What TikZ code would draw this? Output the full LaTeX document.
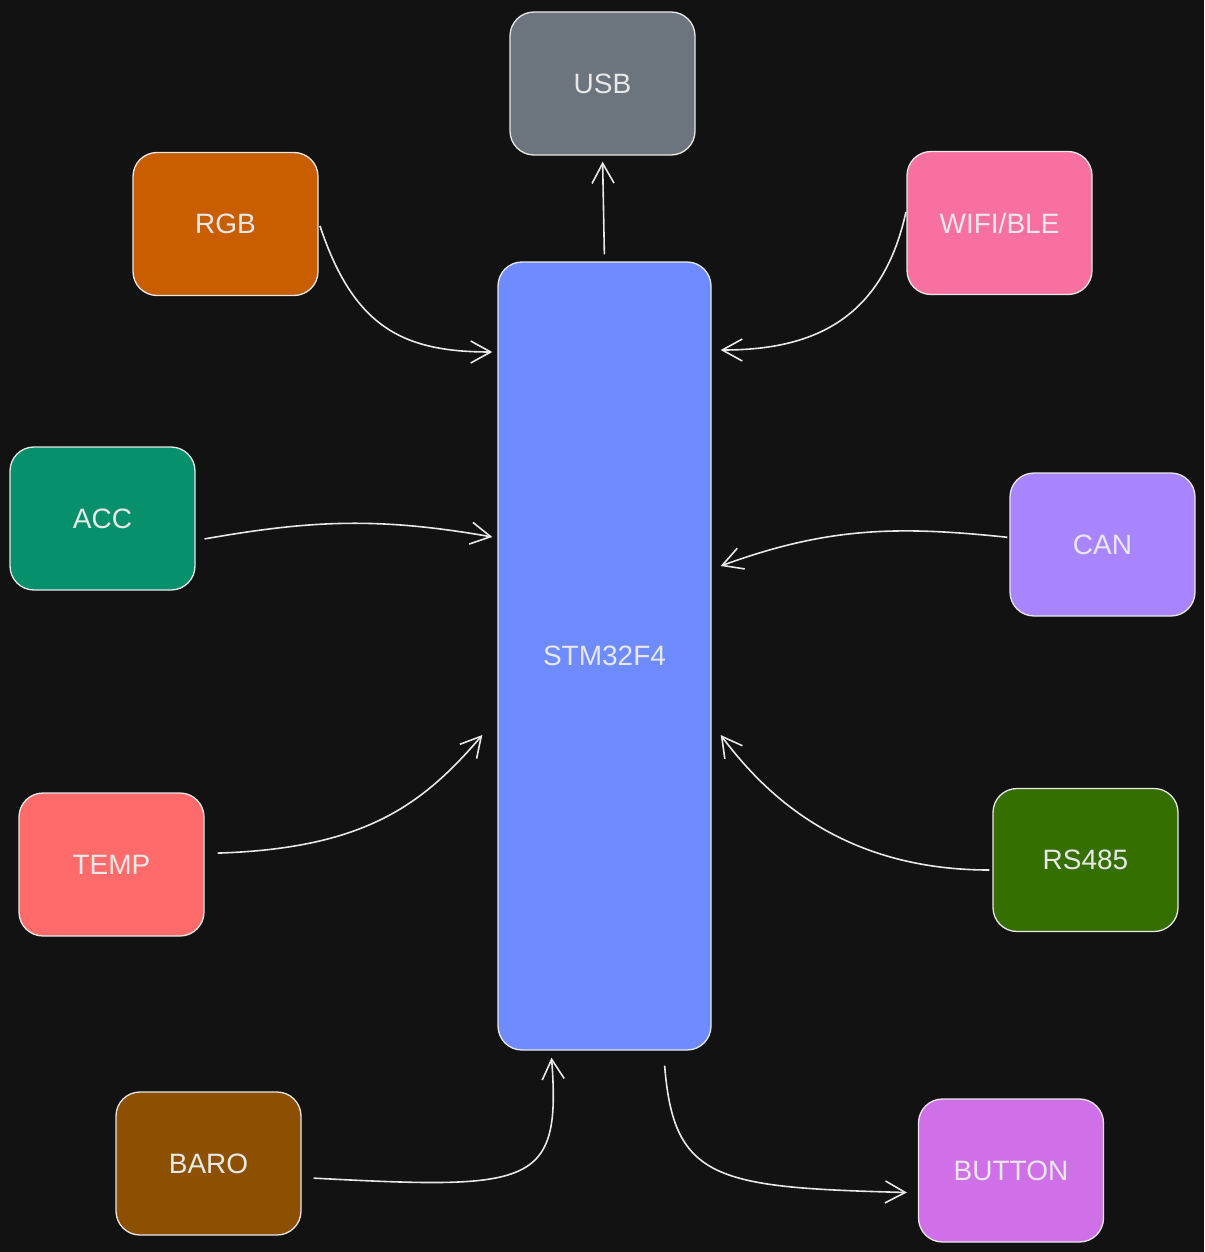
\documentclass[tikz,border=0pt]{standalone}
\usepackage{fontspec}
\setmainfont{Liberation Sans}
\usetikzlibrary{arrows.meta,positioning,calc}

\definecolor{bgcol}{RGB}{18,18,18}
\definecolor{edgecol}{RGB}{232,232,232}
\definecolor{usbcol}{RGB}{108,117,125}
\definecolor{rgbcol}{RGB}{201,94,0}
\definecolor{wificol}{RGB}{247,112,160}
\definecolor{stmcol}{RGB}{110,139,255}
\definecolor{acccol}{RGB}{6,145,108}
\definecolor{cancol}{RGB}{168,133,255}
\definecolor{tempcol}{RGB}{255,107,107}
\definecolor{rscol}{RGB}{52,111,0}
\definecolor{barocol}{RGB}{140,80,0}
\definecolor{buttoncol}{RGB}{208,112,233}

\begin{document}
\begin{tikzpicture}[x=1pt,y=-1pt,
  box/.style={draw=edgecol, line width=1.3pt, rounded corners=24pt, minimum width=185pt, minimum height=143pt, text=edgecol, font=\fontsize{28}{30}\selectfont, inner sep=0pt},
  link/.style={draw=edgecol, line width=1.6pt, -{Straight Barb[length=20pt,width=22pt,line width=1.6pt]}}]
\fill[bgcol] (0,0) rectangle (1204,1252);
\useasboundingbox (0,0) rectangle (1204,1252);

% node boxes
\node[box, fill=stmcol, minimum width=213pt, minimum height=788pt, name=stm] at (604.5,656) {STM32F4};
\node[box, fill=usbcol, name=usb] at (602.5,83.5) {USB};
\node[box, fill=rgbcol, name=rgb] at (225.5,224) {RGB};
\node[box, fill=wificol, name=wifi] at (999.5,223) {WIFI/BLE};
\node[box, fill=acccol, name=acc] at (102.5,518.5) {ACC};
\node[box, fill=cancol, name=can] at (1102.5,544.5) {CAN};
\node[box, fill=tempcol, name=temp] at (111.5,864.5) {TEMP};
\node[box, fill=rscol, name=rs] at (1085.5,860) {RS485};
\node[box, fill=barocol, name=baro] at (208.5,1163.5) {BARO};
\node[box, fill=buttoncol, name=button] at (1011,1170.5) {BUTTON};

% connections
\draw[link, shorten <=7pt, shorten >=6pt] (stm.north) -- (usb.south);
\draw[link, shorten <=4pt] ([yshift=2pt]rgb.east) .. controls +(35,105) and +(-90,0) .. ([xshift=-5pt, yshift=304pt]stm.west);
\draw[link, shorten <=2pt] ([yshift=13pt]wifi.west) .. controls +(-25,115) and +(85,0) .. ([xshift=9pt, yshift=306pt]stm.east);
\draw[link, shorten <=9pt] ([yshift=-22pt]acc.east) to[out=10, in=170] ([xshift=-5pt, yshift=119pt]stm.west);
\draw[link, shorten <=2pt] ([yshift=7pt]can.west) to[out=174, in=20] ([xshift=9pt, yshift=90pt]stm.east);
\draw[link, shorten <=13pt] ([yshift=11pt]temp.east) .. controls +(160,-5) and +(-60,70) .. ([xshift=-15pt, yshift=-79pt]stm.west);
\draw[link, shorten <=3pt] ([yshift=-10pt]rs.west) .. controls +(-150,0) and +(45,60) .. ([xshift=9pt, yshift=-79pt]stm.east);
\draw[link, shorten <=12pt] ([yshift=-14pt]baro.east) .. controls +(230,12) and +(10,130) .. ([xshift=-53pt, yshift=-7pt]stm.south);
\draw[link, shorten <=15pt] ([xshift=59pt]stm.south) .. controls +(10,130) and +(-190,-5) .. ([xshift=-11pt, yshift=-22pt]button.west);

\end{tikzpicture}
\end{document}
